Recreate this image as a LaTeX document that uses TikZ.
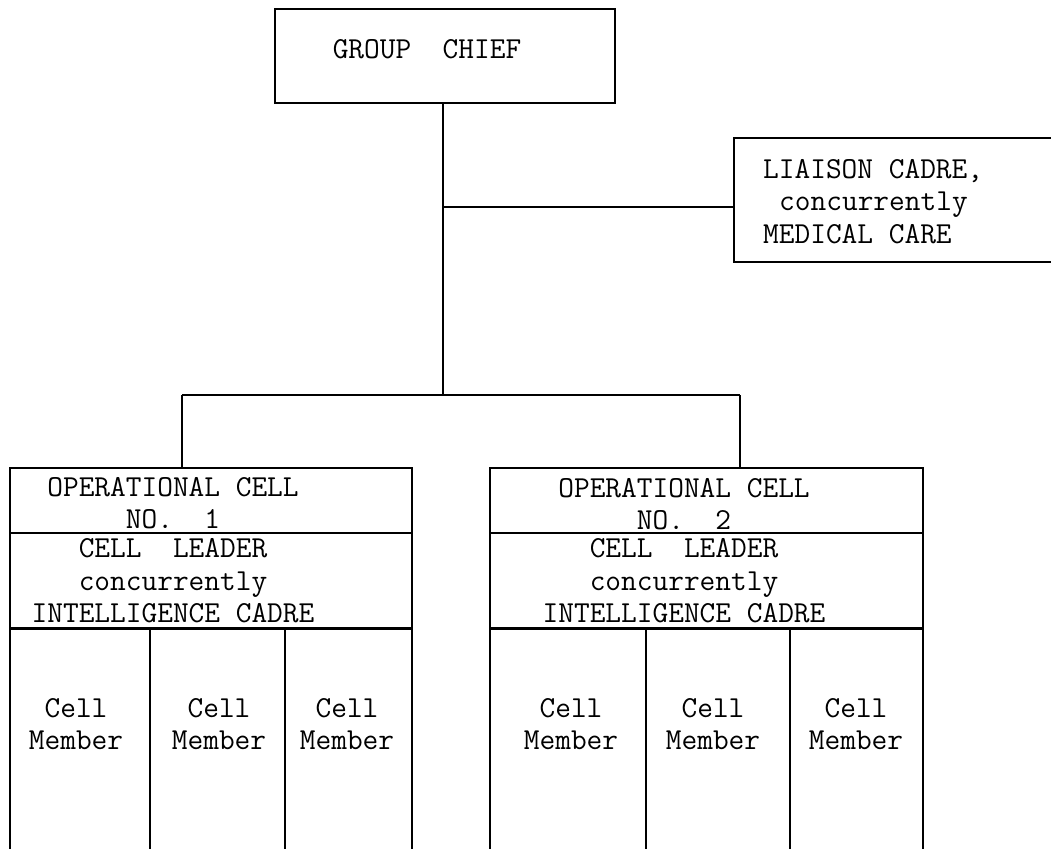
\documentclass[tikz,border=0pt]{standalone}
\usepackage{fontspec}
\tikzset{
  box/.style={draw, line width=2.4pt, inner sep=0pt},
  txt/.style={font=\fontsize{30.5}{32.5}\selectfont\ttfamily\addfontfeatures{FakeBold=1.4}, align=center, inner sep=0pt},
  wire/.style={line width=2.2pt},
  thinwire/.style={line width=1.4pt},
}
\begin{document}
\begin{tikzpicture}[x=1pt,y=-1pt]
\clip (0,0) rectangle (1051,848);
% group chief
\node[box, minimum width=340pt, minimum height=94pt] (chief) at (445,56) {};
\node[txt] (chieflbl) at (427,49) {GROUP\ \ CHIEF};
% liaison
\node[box, minimum width=340pt, minimum height=124pt, anchor=west] (liaison) at (733,200) {};
\node[txt, align=left, anchor=north west] (liaisonlbl) at (763,159) {LIAISON CADRE,\\\hspace*{0.525em}concurrently\\MEDICAL CARE};
% operational cell 1
\node[box, minimum width=402pt, minimum height=65pt] (op1) at (211,500.5) {};
\node[box, minimum width=402pt, minimum height=95pt] (lead1) at (211,580.5) {};
\node[box, minimum width=140pt, minimum height=240pt, anchor=north] (m11) at (80,628) {};
\node[box, minimum width=135pt, minimum height=240pt, anchor=north] (m12) at (217.5,628) {};
\node[box, minimum width=127pt, minimum height=240pt, anchor=north] (m13) at (348.5,628) {};
\node[txt] (op1lbl) at (173,503) {OPERATIONAL CELL\\NO.\ \ 1};
\node[txt] (lead1lbl) at (173,581) {CELL\ \ LEADER\\concurrently\\INTELLIGENCE CADRE};
\node[txt] (m11lbl) at (76,724) {Cell\\Member};
\node[txt] (m12lbl) at (219,724) {Cell\\Member};
\node[txt] (m13lbl) at (347,724) {Cell\\Member};
% operational cell 2
\node[box, minimum width=433pt, minimum height=65pt] (op2) at (706.5,500.5) {};
\node[box, minimum width=433pt, minimum height=95pt] (lead2) at (706.5,580.5) {};
\node[box, minimum width=156pt, minimum height=240pt, anchor=north] (m21) at (568,628) {};
\node[box, minimum width=144pt, minimum height=240pt, anchor=north] (m22) at (718,628) {};
\node[box, minimum width=133pt, minimum height=240pt, anchor=north] (m23) at (856.5,628) {};
\node[txt] (op2lbl) at (684,504) {OPERATIONAL CELL\\NO.\ \ 2};
\node[txt] (lead2lbl) at (684,581) {CELL\ \ LEADER\\concurrently\\INTELLIGENCE CADRE};
\node[txt] (m21lbl) at (571,724) {Cell\\Member};
\node[txt] (m22lbl) at (713,724) {Cell\\Member};
\node[txt] (m23lbl) at (856,724) {Cell\\Member};
% connectors
\coordinate (hub) at (443,395);
\coordinate (lj) at (443,207);
\coordinate (c1) at (182,395);
\coordinate (c2) at (740,395);
\draw[thinwire] (chief.south -| hub) -- (hub);
\draw[wire] (lj) -- (lj -| liaison.west);
\draw[wire] (c1) -- (c2);
\draw[wire] (c1) -- (c1 |- op1.north);
\draw[wire] (c2) -- (c2 |- op2.north);
\end{tikzpicture}
\end{document}
